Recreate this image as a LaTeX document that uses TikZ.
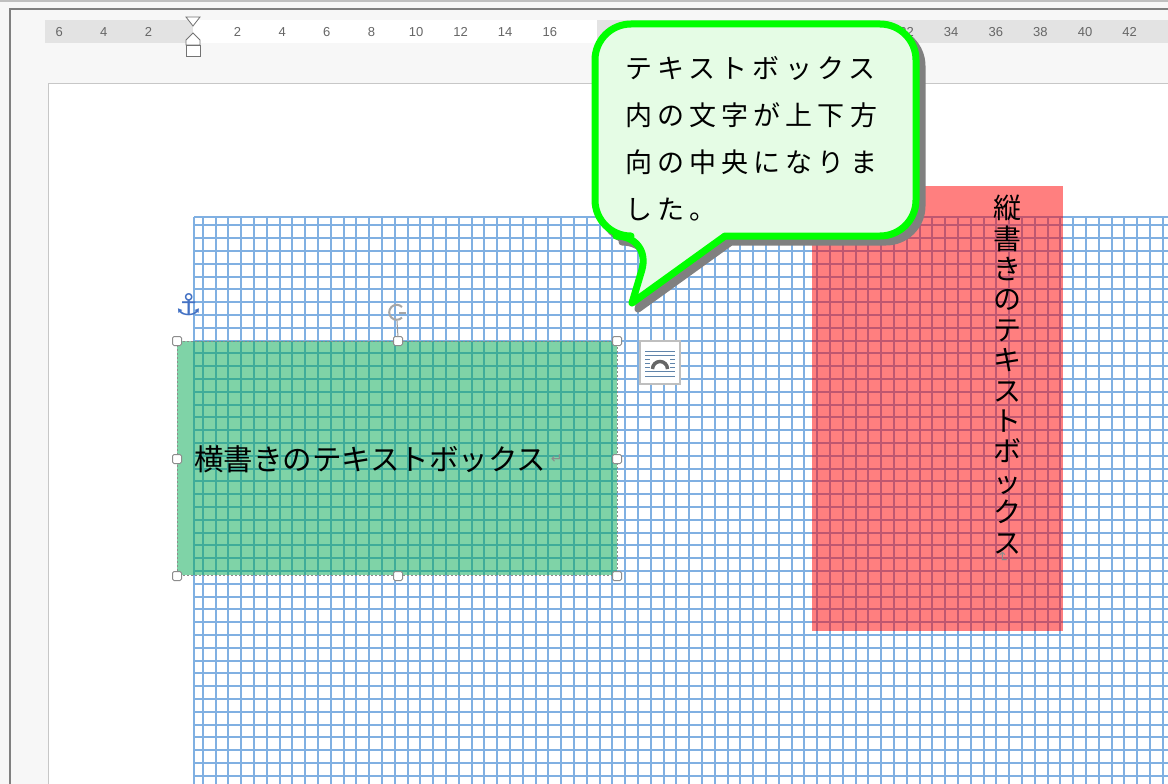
\documentclass[tikz,border=0pt]{standalone}
\usepackage{fontspec}
\setmainfont{Liberation Sans}
\newfontfamily\jpfont{Noto Sans CJK JP}
\newfontfamily\jpcall[LetterSpace=19]{Noto Sans CJK JP}
\newfontfamily\symfont{DejaVu Sans}
\usepackage{tikz}
\usetikzlibrary{positioning, arrows.meta, calc}
\definecolor{gridblue}{RGB}{128,176,226}
\definecolor{boxgreen}{RGB}{0,169,81}
\definecolor{callfill}{RGB}{229,252,229}
\definecolor{callline}{RGB}{0,255,0}
\definecolor{rulergray}{RGB}{227,227,227}
\definecolor{anchorblue}{RGB}{68,114,196}

\begin{document}
\begin{tikzpicture}[
    x=1pt, y=-1pt,
    gridline/.style={draw=gridblue, line width=2pt},
    rulernum/.style={font=\fontsize{13}{14}\selectfont, text=black!60, inner sep=0pt},
    marker/.style={draw=black!55, fill=white, line width=0.8pt},
    handle/.style={draw=black!45, fill=white, rounded corners=1.5pt, line width=1pt},
    callout/.style={draw=callline, fill=callfill, line width=7pt, line join=round},
    shadow/.style={draw=black!50, fill=black!50, line width=7pt, line join=round},
    jptext/.style={inner sep=0pt, text=black}
]
    \useasboundingbox (0,0) rectangle (1168,784);

    % Window and ruler
    \fill[black!3] (0,0) rectangle (1168,784);
    \draw[black!25, line width=2pt] (0,1) -- (1168,1);
    \draw[black!50, line width=2pt] (9.5,784) -- (9.5,9.5) -- (1168,9.5);
    \fill[rulergray] (45,20) rectangle (193,43);
    \fill[white] (193,20) rectangle (597,43);
    \fill[rulergray] (597,20) rectangle (1168,43);
    \foreach \v in {2,4,6}
        \node[rulernum] (rl\v) at ({193-22.3*\v},32) {\v};
    \foreach \v in {2,4,...,16,32,34,...,42}
        \node[rulernum] (rr\v) at ({193+22.3*\v},32) {\v};
    \draw[marker] (186,17) -- (200,17) -- (193,26) -- cycle;
    \draw[marker] (193,33) -- (200,40) -- (200,45) -- (186,45) -- (186,40) -- cycle;
    \draw[marker] (186,45) rectangle (200,56);

    % Page
    \draw[black!22, fill=white, line width=1pt] (48,84) rectangle (1180,800);

    % Grid
    \draw[gridline] (194,217) -- (194,784);
    \draw[gridline] (194,217) -- (1168,217);
    \foreach \i in {0,...,75}
        \draw[gridline] ({round(202.7+12.8*\i)},217) -- ({round(202.7+12.8*\i)},784);
    \foreach \j in {0,...,43}
        \draw[gridline] (194,{round(225.3+12.8*\j)}) -- (1168,{round(225.3+12.8*\j)});

    % Text boxes
    \fill[red, fill opacity=0.5] (812,186) rectangle (1063,631);
    \fill[boxgreen, fill opacity=0.5] (177,341) rectangle (617,575);
    \draw[black!45, line width=1pt, dash pattern=on 2pt off 2pt] (177,341) rectangle (617,575);

    \node[jptext, anchor=west, font=\jpfont\fontsize{29.5}{30}\selectfont] (yoko) at (194,459) {横書きのテキストボックス};
    \node[right=4pt of yoko, inner sep=0pt, text=black!45, font=\symfont\fontsize{14}{14}\selectfont] (yokoret) {↵};

    \node[jptext, anchor=north, align=center, font=\jpfont\fontsize{28}{30.4}\selectfont] (tate) at (1007,195)
        {縦\\書\\き\\の\\テ\\キ\\ス\\ト\\ボ\\ッ\\ク\\ス};
    \node[below=3pt of tate, inner sep=0pt, rotate=-90, text=black!45, font=\symfont\fontsize{14}{14}\selectfont] (tateret) {↵};

    % Selection handles
    \foreach \p in {(177,341),(398,341),(617,341),(177,459),(617,459),(177,576),(398,576),(617,576)}
        \draw[handle] \p ++(-4.5,-4.5) rectangle ++(9,9);
    \draw[black!40, line width=1pt] (397,321) -- (398,337);
    \draw[black!35, line width=2pt] (402,307) arc[start angle=-45, end angle=-315, radius=7.5];
    \draw[black!35, line width=1.6pt] (399,313) -- (406,313);
    \node[inner sep=0pt, text=anchorblue, font=\symfont\fontsize{30}{30}\selectfont] (anchor) at (189,305) {⚓};

    % Layout options icon
    \draw[black!25, fill=white, line width=1.2pt] (640,341) rectangle (680,384);
    \foreach \y in {351,355,371,376}
        \draw[gridblue!75!black, line width=1pt] (645,\y) -- (675,\y);
    \foreach \y in {359,363,367} {
        \draw[gridblue!75!black, line width=1pt] (645,\y) -- (650,\y);
        \draw[gridblue!75!black, line width=1pt] (670,\y) -- (675,\y);
    }
    \draw[black!60, line width=3.5pt] (652.5,369) arc[start angle=180, end angle=360, radius=7.5];

    % Callout
    \begin{scope}[shift={(6,6)}]
        \draw[shadow] (595,130) [rounded corners=36pt] -- (595,236) -- (652,236) [sharp corners] -- (632,303) -- (725,236)
            [rounded corners=36pt] -- (916,236) -- (916,24) -- (595,24) -- cycle;
    \end{scope}
    \draw[callout] (595,130) [rounded corners=36pt] -- (595,236) -- (652,236) [sharp corners] -- (632,303) -- (725,236)
        [rounded corners=36pt] -- (916,236) -- (916,24) -- (595,24) -- cycle;
    \node[jptext, anchor=north west, align=left, font=\jpcall\fontsize{27}{47}\selectfont] (msg) at (625,56)
        {テキストボックス\\内の文字が上下方\\向の中央になりま\\した。};
\end{tikzpicture}
\end{document}
